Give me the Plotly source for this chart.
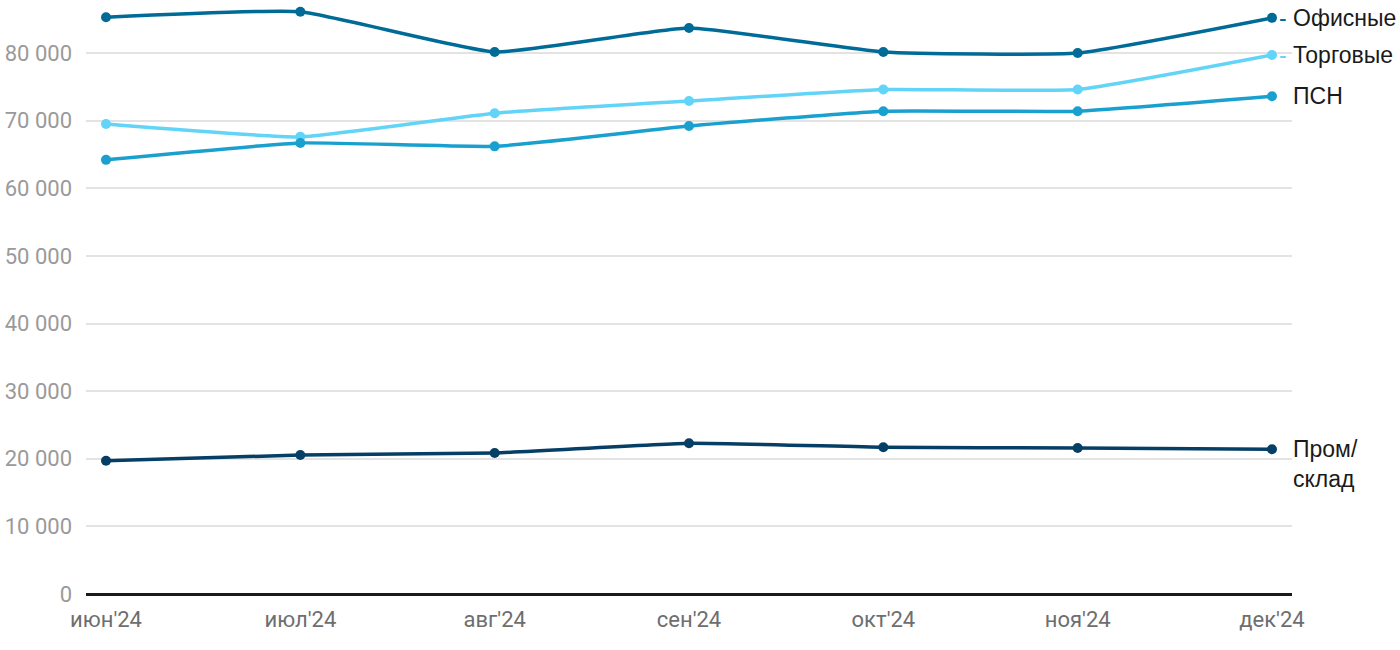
import plotly.graph_objects as go

months = ["июн'24", "июл'24", "авг'24", "сен'24", "окт'24", "ноя'24", "дек'24"]
office = [85300, 86100, 80150, 83700, 80150, 80000, 85200]
retail = [69500, 67600, 71100, 72900, 74600, 74600, 79700]
psn = [64200, 66700, 66200, 69200, 71400, 71400, 73600]
industrial = [19700, 20550, 20850, 22300, 21700, 21600, 21400]

series = [
    ("Офисные", office, "#006b96"),
    ("Торговые", retail, "#62d4f8"),
    ("ПСН", psn, "#1aa0cf"),
    ("Пром/склад", industrial, "#053f66"),
]

fig = go.Figure()
x = list(range(len(months)))
for name, vals, color in series:
    fig.add_trace(go.Scatter(
        x=x, y=vals, mode="lines+markers", name=name,
        line=dict(color=color, width=3.5, shape="spline", smoothing=0.4),
        marker=dict(color=color, size=10),
        cliponaxis=False, showlegend=False,
    ))

label_cfg = [
    ("Офисные", office, "#006b96", True, 0),
    ("Торговые", retail, "#62d4f8", True, 0),
    ("ПСН", psn, "#1aa0cf", False, 0),
    ("Пром/<br>склад", industrial, "#053f66", False, -15),
]
for name, vals, color, dash, yshift in label_cfg:
    if dash:
        txt = f"<span style='color:{color}'>-</span> {name}"
        xs = 5
    else:
        txt = name
        xs = 19
    fig.add_annotation(
        x=x[-1], y=vals[-1], xref="x", yref="y", text=txt,
        showarrow=False, xanchor="left", yanchor="middle", align="left",
        xshift=xs, yshift=yshift,
        font=dict(family="Liberation Sans", size=23, color="#1a1a1a"),
    )

fig.update_layout(
    width=1400, height=650,
    margin=dict(l=86, r=108, t=0, b=56),
    plot_bgcolor="white", paper_bgcolor="white",
    separators=". ",
    font=dict(family="Roboto"),
    xaxis=dict(
        tickmode="array", tickvals=x, ticktext=months,
        range=[-0.103, 6.103], showgrid=False, zeroline=False,
        tickfont=dict(size=22, color="#6e6e6e"),
        showline=False, ticks="", ticklabelstandoff=10, automargin=False,
    ),
    yaxis=dict(
        range=[0, 87840], tickvals=[0, 10000, 20000, 30000, 40000, 50000, 60000, 70000, 80000],
        tickformat=",d", showgrid=True, gridcolor="#e3e3e3", gridwidth=1.5,
        zeroline=True, zerolinecolor="#1a1a1a", zerolinewidth=2.5,
        tickfont=dict(size=22, color="#9a9a9a"), ticks="", ticklabelstandoff=13,
        automargin=False,
    ),
)

fig.write_html("out.html", config={"displayModeBar": False},
               post_script="document.body.style.margin='0';")
